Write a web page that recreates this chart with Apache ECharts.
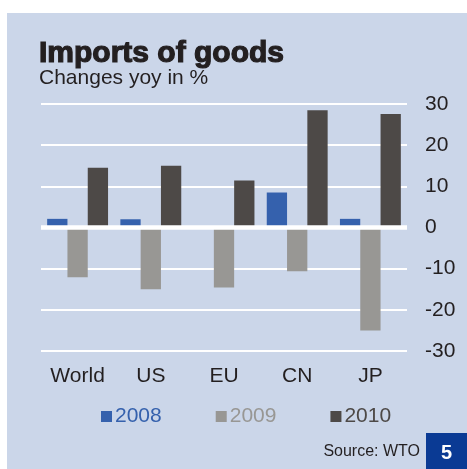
<!DOCTYPE html>
<html>
<head>
<meta charset="utf-8">
<script src="https://cdn.jsdelivr.net/npm/echarts@6/dist/echarts.min.js"></script>
<style>
  html, body { margin: 0; padding: 0; background: #ffffff; }
  #chart { width: 467px; height: 469px; }
</style>
</head>
<body>
<div id="chart"></div>
<script>
// Year-on-year change in imports of goods, %
const categories = ['World', 'US', 'EU', 'CN', 'JP'];
const years = ['2008', '2009', '2010'];
const values2008 = [2.1, 2.0, 0, 8.5, 2.1];
const values2009 = [-12.1, -15.0, -14.6, -10.6, -25.0];
const values2010 = [14.5, 15.0, 11.4, 28.5, 27.6];
const yTicks = [-30, -20, -10, 0, 10, 20, 30];

const COLORS = ['#3561ad', '#989794', '#4d4947'];
const PANEL = '#cbd6e9';
const FONT = '"Liberation Sans", Arial, sans-serif';
const INK = '#231f20';

const chart = echarts.init(document.getElementById('chart'), null, { renderer: 'canvas' });

const seriesValues = [values2008, values2009, values2010];

const series = years.map((year, i) => ({
  name: year,
  type: 'bar',
  data: seriesValues[i],
  barWidth: 20.3,
  barGap: '0%',
  itemStyle: { color: COLORS[i] },
  emphasis: { disabled: true },
  z: 2
}));

// Heavier white zero line over the bars' base
series[0].markLine = {
  silent: true,
  symbol: 'none',
  label: { show: false },
  lineStyle: { color: '#ffffff', width: 4.5, type: 'solid' },
  data: [{ yAxis: 0 }],
  animation: false
};

chart.setOption({
  animation: false,
  backgroundColor: '#ffffff',
  textStyle: { fontFamily: FONT },
  graphic: {
    elements: [
      {
        type: 'rect', z: -100, silent: true,
        shape: { x: 7, y: 13, width: 460, height: 456 },
        style: { fill: PANEL }
      },
      {
        type: 'rect', z: 100, silent: true,
        shape: { x: 426, y: 433, width: 41, height: 36 },
        style: { fill: '#0a3a94' }
      },
      {
        type: 'text', z: 101, silent: true,
        style: {
          text: '5', x: 446.5, y: 453, align: 'center', verticalAlign: 'middle',
          fill: '#ffffff', font: 'bold 20px ' + FONT
        }
      },
      {
        type: 'text', z: 101, silent: true,
        style: {
          text: 'Source: WTO', x: 420, y: 452, align: 'right', verticalAlign: 'middle',
          fill: INK, font: '16px ' + FONT
        }
      },
      {
        type: 'text', z: 101, silent: true,
        style: {
          text: 'Imports of goods', x: 39, y: 39, align: 'left', verticalAlign: 'top',
          fill: INK, font: 'bold 30px ' + FONT,
          stroke: INK, lineWidth: 1.2
        }
      },
      {
        type: 'text', z: 101, silent: true,
        style: {
          text: 'Changes yoy in %', x: 39, y: 67.5, align: 'left', verticalAlign: 'top',
          fill: INK, font: '21px ' + FONT
        }
      }
    ]
  },
  legend: {
    left: 96,
    top: 401,
    itemWidth: 11,
    itemHeight: 11,
    itemGap: 54,
    icon: 'rect',
    selectedMode: false,
    textStyle: { fontSize: 21, fontFamily: FONT, padding: [0, 0, 0, -2] },
    data: years.map((y, i) => ({ name: y, textStyle: { color: COLORS[i] } }))
  },
  grid: { left: 41, right: 60, top: 104, bottom: 118, containLabel: false },
  xAxis: {
    type: 'category',
    data: categories,
    position: 'bottom',
    axisLine: { show: false, onZero: false },
    axisTick: { show: false },
    axisLabel: { color: INK, fontSize: 21, fontFamily: FONT, margin: 15 }
  },
  yAxis: {
    type: 'value',
    position: 'right',
    min: yTicks[0],
    max: yTicks[yTicks.length - 1],
    interval: 10,
    axisLine: { show: false },
    axisTick: { show: false },
    axisLabel: { color: INK, fontSize: 21, fontFamily: FONT, margin: 18 },
    splitLine: { lineStyle: { color: '#ffffff', width: 2 } }
  },
  series: series
});
</script>
</body>
</html>
